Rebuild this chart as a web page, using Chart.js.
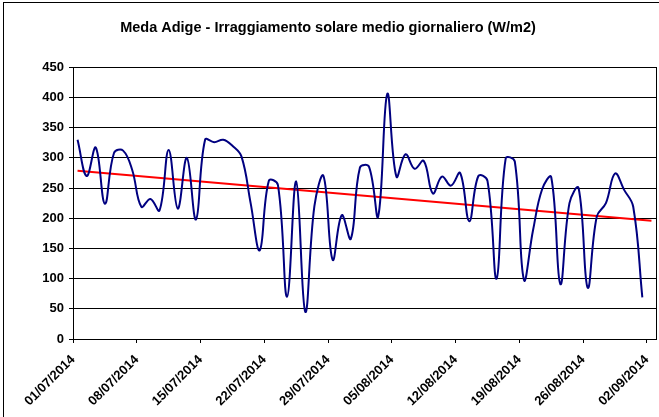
<!DOCTYPE html>
<html lang="it">
  <head>
    <meta charset="UTF-8" />
    <title>Meda Adige - Irraggiamento solare</title>
    <script src="https://cdn.jsdelivr.net/npm/chart.js"></script>
    <style>
        body {
            margin: 0;
            background: white;
        }
        .chart-box {
            width: 659px;
            height: 417px;
            position: relative;
        }
    </style>
  </head>

  <body>
    <div class="chart-box">
        <canvas id="solarChart"></canvas>
    </div>

    <script>
        // daily mean irradiance, 01/07/2014 .. 01/09/2014 (one value per day)
        const irraggiamento = [
            330, 270, 317, 224, 308, 312, 280, 219, 232, 213,
            313, 216, 300, 198, 330, 326, 330, 320, 302, 225,
            147, 262, 255, 70, 261, 45, 220, 270, 131, 205,
            166, 284, 285, 203, 406, 269, 306, 282, 295, 241,
            269, 254, 275, 195, 270, 262, 100, 299, 294, 98,
            180, 248, 268, 91, 225, 250, 85, 203, 225, 274,
            247, 219, 69
        ];
        // linear trend, first day and one period past the last day
        const trendDays = [0, 63];
        const trendValues = [278.5, 195.7];

        const tickLabels = ['01/07/2014', '08/07/2014', '15/07/2014', '22/07/2014', '29/07/2014',
                            '05/08/2014', '12/08/2014', '19/08/2014', '26/08/2014', '02/09/2014'];
        const totalDays = 64;

        // each day sits in the middle of its slot
        const seriesPoints = irraggiamento.map((v, i) => ({ x: i + 0.5, y: v }));
        const trendPoints = trendDays.map((d, i) => ({ x: d + 0.5, y: trendValues[i] }));

        const frame = {
            id: 'frame',
            beforeDraw(chart) {
                const ctx = chart.ctx;
                ctx.save();
                ctx.fillStyle = '#fff';
                ctx.fillRect(0, 0, chart.width, chart.height);
                ctx.strokeStyle = '#000';
                ctx.lineWidth = 1;
                ctx.strokeRect(3.5, 2.5, chart.width + 10, chart.height + 10);
                ctx.restore();
            },
            afterDatasetsDraw(chart) {
                const a = chart.chartArea;
                const ctx = chart.ctx;
                ctx.save();
                ctx.strokeStyle = '#000';
                ctx.lineWidth = 1;
                ctx.strokeRect(Math.round(a.left) + 0.5, Math.round(a.top) + 0.5,
                               Math.round(a.right - a.left), Math.round(a.bottom - a.top));
                ctx.restore();
            }
        };

        const boldFont = { family: 'Arial, "Liberation Sans", sans-serif', size: 13, weight: 'bold' };

        new Chart(document.getElementById('solarChart'), {
            type: 'line',
            data: {
                datasets: [{
                    data: seriesPoints,
                    borderColor: '#000080',
                    borderWidth: 2,
                    pointRadius: 0,
                    tension: 0.4,
                    fill: false
                }, {
                    data: trendPoints,
                    borderColor: '#ff0000',
                    borderWidth: 2,
                    pointRadius: 0,
                    tension: 0,
                    fill: false
                }]
            },
            options: {
                responsive: true,
                maintainAspectRatio: false,
                animation: false,
                layout: { padding: { left: 0, right: 3, top: 0, bottom: 0 } },
                plugins: {
                    legend: { display: false },
                    tooltip: { enabled: false },
                    title: {
                        display: true,
                        text: 'Meda Adige - Irraggiamento solare medio giornaliero (W/m2)',
                        color: '#000',
                        font: { family: boldFont.family, size: 14.5, weight: 'bold' },
                        padding: { top: 19.3, bottom: 30.6 }
                    }
                },
                scales: {
                    x: {
                        type: 'linear',
                        min: 0,
                        max: totalDays,
                        afterFit(scale) {
                            scale.height = 78;
                            scale.paddingLeft = 0;
                            scale.paddingRight = 0;
                        },
                        grid: {
                            drawOnChartArea: false,
                            drawTicks: true,
                            tickLength: 4,
                            color: '#000'
                        },
                        border: { color: '#000' },
                        ticks: {
                            stepSize: 7,
                            includeBounds: false,
                            autoSkip: false,
                            maxRotation: 45,
                            minRotation: 45,
                            color: '#000',
                            font: boldFont,
                            padding: 9,
                            callback: (v, i) => tickLabels[i]
                        }
                    },
                    y: {
                        min: 0,
                        max: 450,
                        afterFit(scale) { scale.width = 73; },
                        grid: {
                            color: '#000',
                            lineWidth: 1,
                            tickLength: 4
                        },
                        border: { color: '#000' },
                        ticks: {
                            stepSize: 50,
                            color: '#000',
                            font: boldFont,
                            padding: 5
                        }
                    }
                }
            },
            plugins: [frame]
        });
    </script>
  </body>
</html>
